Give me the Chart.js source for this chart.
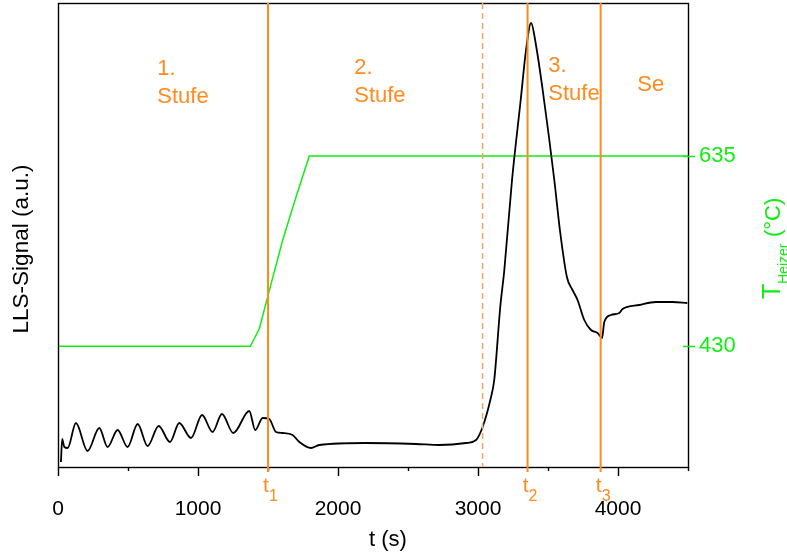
<!DOCTYPE html>
<html>
<head>
<meta charset="utf-8">
<script src="https://cdn.jsdelivr.net/npm/chart.js@4/dist/chart.umd.min.js"></script>
<style>
  html, body { margin: 0; padding: 0; background: #fff; }
</style>
</head>
<body>
<canvas id="chart" width="787" height="559"></canvas>
<script>
// LLS signal (arbitrary units) over time in s
const llsTime = [21, 30, 45, 69, 128, 211, 295, 354, 426, 497, 569, 640, 719, 800, 866, 950,
  1029, 1104, 1171, 1252, 1366, 1409, 1462, 1509, 1557, 1604, 1676, 1724, 1807, 1866, 2200,
  2557, 2723, 2914, 2986, 3033, 3088, 3116, 3159, 3188, 3243, 3305, 3343, 3379, 3414, 3462,
  3545, 3585, 3635, 3675, 3711, 3759, 3807, 3854, 3886, 3902, 3950, 4009, 4033, 4152, 4271,
  4390, 4495];
const llsSignal = [5, 28, 20, 19, 44, 16, 39, 20, 37, 20, 43, 21, 41, 25, 44, 29,
  52, 35, 53, 34, 56, 37, 49, 48, 35, 34, 32, 25, 19, 22, 24,
  23, 22, 24, 27, 40, 67, 87, 160, 197, 287, 367, 417, 444, 422, 377,
  287, 237, 190, 177, 167, 147, 137, 134, 129, 145, 152, 154, 158, 162, 165,
  165, 164];

// heater temperature in °C
const heaterTime = [0, 1374, 1438, 1497, 1604, 1700, 1795, 4500];
const heaterTemp = [430, 430, 449, 483, 544, 591, 635, 635];

const tempTicks = [430, 635];
const xTickLabels = [0, 1000, 2000, 3000, 4000];
const xTickSteps = [0, 500, 1000, 1500, 2000, 2500, 3000, 3500, 4000, 4500];

const markerTimes = [1500, 3354, 3876];
const markerSubs = ['1', '2', '3'];
const dashedTime = 3033;

const stageTimes = [709, 2116, 3502, 4138];
const stageLines = [['1.', 'Stufe'], ['2.', 'Stufe'], ['3.', 'Stufe'], ['Se']];

const FONT = "'Liberation Sans', Arial, sans-serif";
const ORANGE = '#ff8a1e';
const GREEN = '#11ee11';

function fixSize(prop, size) {
  return s => {
    s[prop] = size;
    s.paddingTop = 0; s.paddingBottom = 0; s.paddingLeft = 0; s.paddingRight = 0;
  };
}

const decor = {
  id: 'decor',
  afterDatasetsDraw(chart) {
    const { ctx, chartArea: a, scales: { x, y2 } } = chart;
    ctx.save();

    // frame
    ctx.strokeStyle = '#000';
    ctx.lineWidth = 1.4;
    ctx.strokeRect(a.left + 0.5, a.top + 0.5, a.right - a.left, a.bottom - a.top);

    // x ticks (outward, minor ones shorter)
    xTickSteps.forEach(v => {
      const px = Math.round(x.getPixelForValue(v)) + 0.5;
      const len = v % 1000 === 0 ? 9 : 4;
      ctx.beginPath();
      ctx.moveTo(px, a.bottom);
      ctx.lineTo(px, a.bottom + len);
      ctx.stroke();
    });

    // temperature ticks across the right border
    ctx.strokeStyle = GREEN;
    ctx.lineWidth = 1.5;
    tempTicks.forEach(v => {
      const py = Math.round(y2.getPixelForValue(v)) + 0.5;
      ctx.beginPath();
      ctx.moveTo(a.right - 5, py);
      ctx.lineTo(a.right + 7, py);
      ctx.stroke();
    });

    // dashed line
    ctx.strokeStyle = '#f7a45c';
    ctx.lineWidth = 1.5;
    ctx.setLineDash([6, 4]);
    let px = x.getPixelForValue(dashedTime);
    ctx.beginPath();
    ctx.moveTo(px, a.top);
    ctx.lineTo(px, a.bottom);
    ctx.stroke();
    ctx.setLineDash([]);

    // t1..t3 lines and labels
    ctx.strokeStyle = ORANGE;
    ctx.fillStyle = ORANGE;
    ctx.lineWidth = 2;
    markerTimes.forEach((t, i) => {
      const mx = x.getPixelForValue(t);
      ctx.beginPath();
      ctx.moveTo(mx, a.top);
      ctx.lineTo(mx, a.bottom + 5);
      ctx.stroke();
      ctx.font = '21px ' + FONT;
      ctx.textAlign = 'center';
      ctx.textBaseline = 'alphabetic';
      ctx.fillText('t', mx - 2, a.bottom + 25);
      ctx.font = '16px ' + FONT;
      ctx.textAlign = 'left';
      ctx.fillText(markerSubs[i], mx + 1, a.bottom + 34);
    });

    // stage labels
    const firstBase = [75, 74, 72, 91];
    ctx.font = '22px ' + FONT;
    ctx.textAlign = 'left';
    stageTimes.forEach((t, i) => {
      const sx = x.getPixelForValue(t);
      stageLines[i].forEach((s, j) => {
        ctx.fillText(s, sx, firstBase[i] + j * 28);
      });
    });

    // axis titles
    ctx.fillStyle = '#000';
    ctx.font = '22px ' + FONT;
    ctx.textAlign = 'center';
    ctx.fillText('t (s)', 388, 546);

    ctx.save();
    ctx.translate(22, 249);
    ctx.rotate(-Math.PI / 2);
    ctx.textBaseline = 'middle';
    ctx.font = '22.5px ' + FONT;
    ctx.fillText('LLS-Signal (a.u.)', 0, 0);
    ctx.restore();

    ctx.save();
    ctx.translate(779.5, 299);
    ctx.rotate(-Math.PI / 2);
    ctx.fillStyle = GREEN;
    ctx.textAlign = 'left';
    ctx.textBaseline = 'alphabetic';
    ctx.font = '25px ' + FONT;
    ctx.fillText('T', 0, 0);
    ctx.font = '14px ' + FONT;
    ctx.fillText('Heizer', 15, 8.5);
    ctx.font = '22px ' + FONT;
    ctx.fillText('(\u00B0C)', 62, 0);
    ctx.restore();

    ctx.restore();
  }
};

new Chart(document.getElementById('chart'), {
  type: 'line',
  data: {
    datasets: [
      {
        label: 'LLS-Signal',
        data: llsTime.map((t, i) => ({ x: t, y: llsSignal[i] })),
        yAxisID: 'y',
        borderColor: '#000',
        borderWidth: 1.8,
        pointRadius: 0,
        cubicInterpolationMode: 'monotone'
      },
      {
        label: 'T Heizer',
        data: heaterTime.map((t, i) => ({ x: t, y: heaterTemp[i] })),
        yAxisID: 'y2',
        borderColor: GREEN,
        borderWidth: 1.5,
        pointRadius: 0,
        tension: 0
      }
    ]
  },
  options: {
    responsive: false,
    animation: false,
    layout: { padding: { top: 3, left: 0, right: 0, bottom: 0 } },
    plugins: { legend: { display: false }, tooltip: { enabled: false } },
    scales: {
      x: {
        type: 'linear',
        min: 0,
        max: 4500,
        afterBuildTicks: s => { s.ticks = xTickLabels.map(v => ({ value: v })); },
        afterFit: fixSize('height', 92),
        grid: { display: false, drawTicks: false },
        border: { display: false },
        ticks: {
          color: '#000',
          font: { family: FONT, size: 21 },
          padding: 30,
          maxRotation: 0,
          autoSkip: false,
          callback: v => String(v)
        }
      },
      y: {
        position: 'left',
        min: 0,
        max: 464,
        afterFit: fixSize('width', 58),
        grid: { display: false, drawTicks: false },
        border: { display: false },
        ticks: { display: false }
      },
      y2: {
        position: 'right',
        min: 300,
        max: 800,
        afterBuildTicks: s => { s.ticks = tempTicks.map(v => ({ value: v })); },
        afterFit: fixSize('width', 99),
        grid: { display: false, drawTicks: false },
        border: { display: false },
        ticks: {
          color: GREEN,
          font: { family: FONT, size: 22 },
          padding: 11,
          autoSkip: false
        }
      }
    }
  },
  plugins: [decor]
});
</script>
</body>
</html>
